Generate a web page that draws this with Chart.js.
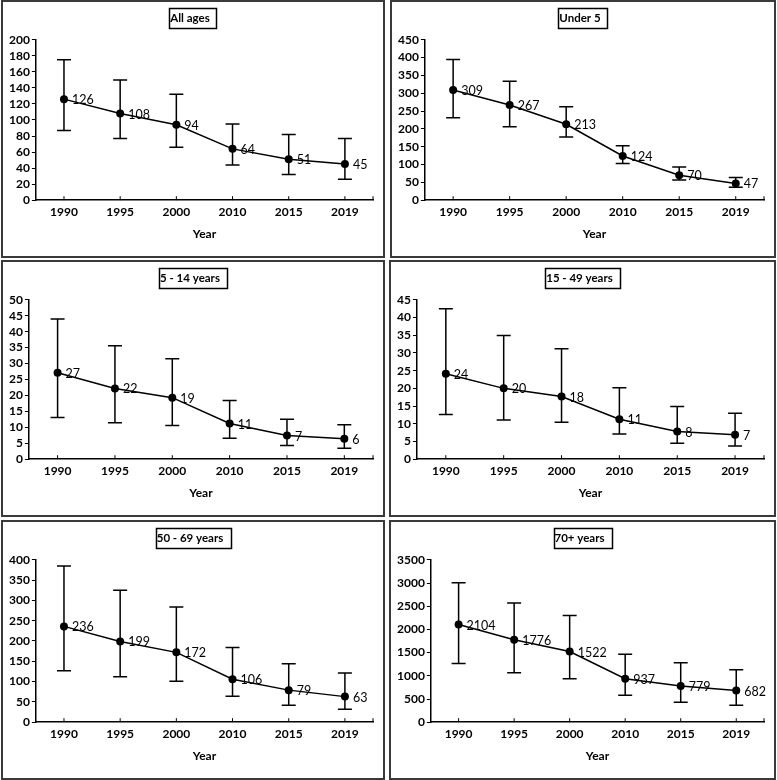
<!DOCTYPE html>
<html>
<head>
<meta charset="utf-8">
<script src="https://cdn.jsdelivr.net/npm/chart.js@4.4.0/dist/chart.umd.min.js"></script>
<style>
  body { margin: 0; background: #fff; width: 777px; height: 780px; position: relative; overflow: hidden; }
  .panel { position: absolute; box-sizing: border-box; border: 2px solid #3a3a3a; background: #fff; }
  .panel canvas { display: block; }
</style>
</head>
<body>
<div class="panel" style="left:1px;top:0;width:384px;height:258px"><canvas id="c1"></canvas></div>
<div class="panel" style="left:390px;top:0;width:386px;height:258px"><canvas id="c2"></canvas></div>
<div class="panel" style="left:1px;top:260px;width:384px;height:257px"><canvas id="c3"></canvas></div>
<div class="panel" style="left:389px;top:260px;width:387px;height:257px"><canvas id="c4"></canvas></div>
<div class="panel" style="left:1px;top:520px;width:384px;height:260px"><canvas id="c5"></canvas></div>
<div class="panel" style="left:389px;top:520px;width:387px;height:260px"><canvas id="c6"></canvas></div>
<script>
const years = ["1990", "1995", "2000", "2010", "2015", "2019"];

const allAges = [126, 108, 94, 64, 51, 45];
const allAgesLow = [87, 77, 66, 44, 32, 26];
const allAgesHigh = [175, 150, 132, 95, 82, 77];

const under5 = [309, 267, 213, 124, 70, 47];
const under5Low = [231, 206, 177, 103, 57, 36];
const under5High = [395, 334, 262, 153, 93, 64];

const age5to14 = [27.1, 22.2, 19.3, 11.2, 7.4, 6.4];
const age5to14Low = [13.1, 11.4, 10.6, 6.6, 4.3, 3.4];
const age5to14High = [44, 35.6, 31.5, 18.4, 12.5, 10.8];

const age15to49 = [24.1, 20.0, 17.7, 11.3, 7.8, 6.9];
const age15to49Low = [12.6, 11.1, 10.4, 7.1, 4.5, 3.7];
const age15to49High = [42.5, 34.9, 31.2, 20.2, 14.9, 13.0];

const age50to69 = [236, 199, 172, 106, 79, 63];
const age50to69Low = [127, 112, 101, 64, 42, 32];
const age50to69High = [385, 325, 284, 184, 144, 121];

const age70plus = [2104, 1776, 1522, 937, 779, 682];
const age70plusLow = [1266, 1065, 938, 581, 432, 365];
const age70plusHigh = [3008, 2569, 2301, 1467, 1281, 1132];

const FONT = "Lato";

// error bars, small x ticks, value labels and the boxed title
const extras = {
  id: "extras",
  beforeDatasetsDraw(chart, args, opts) {
    const ctx = chart.ctx;
    const x = chart.scales.x, y = chart.scales.y;
    ctx.save();
    ctx.strokeStyle = "#000";
    ctx.lineWidth = 1.5;
    opts.low.forEach((lo, i) => {
      const px = x.getPixelForValue(i);
      const yl = y.getPixelForValue(lo);
      const yh = y.getPixelForValue(opts.high[i]);
      ctx.beginPath();
      ctx.moveTo(px, yl); ctx.lineTo(px, yh);
      ctx.moveTo(px - 7, yl); ctx.lineTo(px + 7, yl);
      ctx.moveTo(px - 7, yh); ctx.lineTo(px + 7, yh);
      ctx.stroke();
    });
    // x tick marks point up into the plot
    ctx.lineWidth = 1;
    const ticksX = years.map((_, i) => x.getPixelForValue(i));
    ticksX.push(chart.chartArea.right);
    ticksX.forEach((px) => {
      ctx.beginPath();
      ctx.moveTo(px, y.bottom); ctx.lineTo(px, y.bottom - 4);
      ctx.stroke();
    });
    ctx.restore();
  },
  afterDatasetsDraw(chart) {
    const ctx = chart.ctx;
    const meta = chart.getDatasetMeta(0);
    const data = chart.data.datasets[0].data;
    ctx.save();
    ctx.font = "12.5px " + FONT;
    ctx.fillStyle = "#000";
    ctx.textAlign = "left";
    ctx.textBaseline = "middle";
    meta.data.forEach((pt, i) => {
      ctx.fillText(String(Math.round(data[i])), pt.x + 8, pt.y + 1);
    });
    ctx.restore();
  },
  afterDraw(chart) {
    const ctx = chart.ctx;
    const tb = chart.titleBlock;
    if (!tb) return;
    ctx.save();
    ctx.font = "bold 11.5px " + FONT;
    const w = ctx.measureText(chart.options.plugins.title.text).width;
    const cx = chart.width / 2;
    const cy = tb.top + 9 + 6.9;
    ctx.strokeStyle = "#000";
    ctx.lineWidth = 1.5;
    ctx.strokeRect(Math.round(cx - w / 2 - 4) + 0.5, Math.round(cy - 10) + 0.5, Math.round(w + 8), 20);
    ctx.restore();
  },
};

function makeChart(id, title, values, low, high, max, step) {
  return new Chart(document.getElementById(id), {
    type: "line",
    data: {
      labels: years,
      datasets: [
        {
          data: values,
          borderColor: "#000",
          borderWidth: 1.5,
          backgroundColor: "#000",
          pointRadius: 4,
          pointBorderWidth: 0,
          tension: 0,
        },
      ],
    },
    options: {
      responsive: true,
      maintainAspectRatio: false,
      animation: false,
      layout: { padding: { left: 4, right: 10, bottom: 15, top: 0 } },
      plugins: {
        legend: { display: false },
        tooltip: { enabled: false },
        title: {
          display: true,
          text: title,
          color: "#000",
          font: { family: FONT, size: 11.5, weight: "bold", lineHeight: 1.2 },
          padding: { top: 9, bottom: 15 },
        },
        extras: { low: low, high: high },
      },
      scales: {
        x: {
          offset: true,
          grid: { display: false, drawTicks: false, tickLength: 0 },
          border: { display: true, color: "#000", width: 1.5 },
          ticks: { color: "#000", padding: 5, font: { family: FONT, size: 12, weight: "bold" } },
          title: {
            display: true,
            text: "Year",
            color: "#000",
            font: { family: FONT, size: 12, weight: "bold", lineHeight: 1.2 },
            padding: { top: 2, bottom: 0 },
          },
        },
        y: {
          min: 0,
          max: max,
          grid: { display: true, drawOnChartArea: false, drawTicks: true, tickLength: 4, color: "#000" },
          border: { display: true, color: "#000", width: 1.5 },
          ticks: {
            stepSize: step,
            autoSkip: false,
            color: "#000",
            padding: 2,
            font: { family: FONT, size: 12, weight: "bold" },
            callback: (v) => String(v),
          },
        },
      },
    },
    plugins: [extras],
  });
}

makeChart("c1", "All ages", allAges, allAgesLow, allAgesHigh, 200, 20);
makeChart("c2", "Under 5", under5, under5Low, under5High, 450, 50);
makeChart("c3", "5 - 14 years", age5to14, age5to14Low, age5to14High, 50, 5);
makeChart("c4", "15 - 49 years", age15to49, age15to49Low, age15to49High, 45, 5);
makeChart("c5", "50 - 69 years", age50to69, age50to69Low, age50to69High, 400, 50);
makeChart("c6", "70+ years", age70plus, age70plusLow, age70plusHigh, 3500, 500);
</script>
</body>
</html>
